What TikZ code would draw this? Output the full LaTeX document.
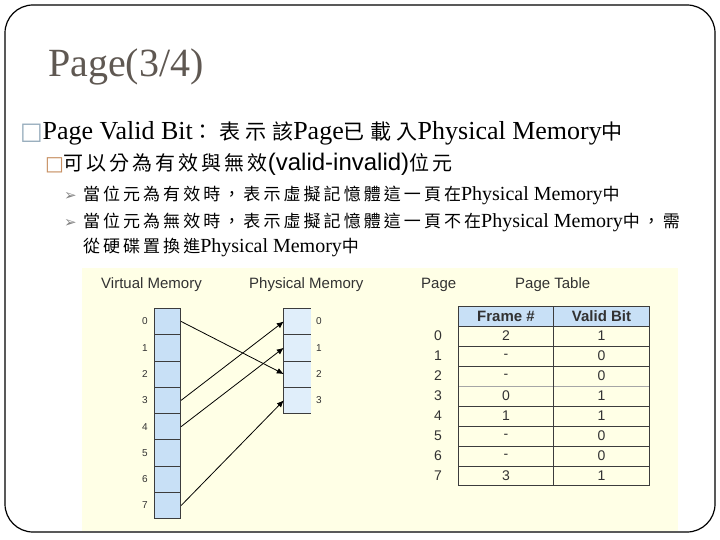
\documentclass[tikz,border=0pt]{standalone}
\usepackage{fontspec}
\setmainfont{Liberation Serif}
\newfontfamily\cjka{Noto Sans CJK TC}[LetterSpace=26]
\newfontfamily\cjkb{Noto Sans CJK TC}[LetterSpace=15]
\newfontfamily\cjkc{Noto Sans CJK TC}[LetterSpace=18]
\newfontfamily\arial{Liberation Sans}
\newfontfamily\dv{DejaVu Sans}
\usetikzlibrary{arrows.meta}
\definecolor{titlegray}{RGB}{95,88,82}
\definecolor{boxblue}{RGB}{150,172,188}
\definecolor{boxorange}{RGB}{200,145,100}
\definecolor{bulletgray}{RGB}{130,130,130}
\definecolor{bgyellow}{RGB}{255,255,230}
\definecolor{cellblue}{RGB}{200,224,246}
\definecolor{celllight}{RGB}{224,238,250}
\definecolor{linegray}{RGB}{60,60,60}
\definecolor{txtgray}{RGB}{50,50,50}
\tikzset{
  txt/.style={anchor=base west, inner sep=0pt, outer sep=0pt},
  vcell/.style={minimum width=26.7pt, minimum height=26.3pt, inner sep=0pt, fill=cellblue, draw=linegray, line width=0.8pt},
  pcell/.style={minimum width=26.7pt, minimum height=26.3pt, inner sep=0pt, fill=celllight},
  numlbl/.style={font=\arial\fontsize{10}{10}\selectfont, text=txtgray, inner sep=0pt},
  colhead/.style={font=\arial\fontsize{15}{15}\selectfont, text=txtgray, inner sep=0pt, anchor=base west},
  tcell/.style={font=\arial\fontsize{14}{14}\selectfont, text=txtgray, inner sep=0pt, minimum height=20pt},
  thead/.style={font=\arial\bfseries\fontsize{15}{15}\selectfont, text=txtgray, inner sep=0pt},
  arr/.style={-{Latex[length=7pt,width=6pt]}, line width=0.8pt, black}
}
\newcommand{\Ca}[1]{{\cjka\fontsize{21}{21}\selectfont #1}}
\newcommand{\Cc}[1]{{\cjkc\fontsize{17}{17}\selectfont #1}}
\begin{document}
\begin{tikzpicture}[x=1pt,y=-1pt]
\useasboundingbox (0,0) rectangle (720,540);
\fill[white] (0,0) rectangle (720,540);
% diagram background
\fill[bgyellow] (82,268) rectangle (678,531);
% slide frame
\draw[line width=1.2pt, rounded corners=28pt] (5,5) rectangle (715,532);

% title
\node[txt, font=\fontsize{40}{40}\selectfont, text=titlegray] (title) at (48,77) {Page(3/4)};

% bullet lines
\node[txt, font=\fontsize{26}{26}\selectfont] (l1) at (20,140)
 {{\dv\fontsize{24}{24}\selectfont\color{boxblue}□}Page Valid Bit\Ca{：表示該}Page\Ca{已載入}Physical Memory\Ca{中}};
\node[txt, font=\cjkb\fontsize{20}{20}\selectfont] (l2) at (45,171)
 {{\dv\fontsize{20}{20}\selectfont\color{boxorange}□}可以分為有效與無效{\arial\fontsize{24}{24}\selectfont(valid-invalid)}位元};
\node[txt, font=\dv\fontsize{15}{15}\selectfont, text=bulletgray] (b3) at (64,201) {➢};
\node[txt, font=\fontsize{20}{20}\selectfont] (l3) at (83,201)
 {\Cc{當位元為有效時，表示虛擬記憶體這一頁在}Physical Memory\Cc{中}};
\node[txt, font=\dv\fontsize{15}{15}\selectfont, text=bulletgray] (b4) at (64,228) {➢};
\node[txt, font=\fontsize{20}{20}\selectfont] (l4) at (83,228)
 {\Cc{當位元為無效時，表示虛擬記憶體這一頁不在}Physical Memory\Cc{中，需}};
\node[txt, font=\fontsize{20}{20}\selectfont] (l5) at (83,252)
 {\Cc{從硬碟置換進}Physical Memory\Cc{中}};

% column headings
\node[colhead] (hv) at (101,288) {Virtual Memory};
\node[colhead] (hp) at (249,288) {Physical Memory};
\node[colhead] (hpg) at (421,288) {Page};
\node[colhead] (hpt) at (515,288) {Page Table};

% virtual memory column
\foreach \i in {0,...,7} {
  \node[vcell] (v\i) at (167.35,{321.45+26.3*\i}) {};
  \node[numlbl] (vl\i) at (145,{321.45+26.3*\i}) {\i};
}
% physical memory column
\foreach \i in {0,...,3} {
  \node[pcell] (p\i) at (297.35,{321.45+26.3*\i}) {};
  \node[numlbl] (pl\i) at (319,{321.45+26.3*\i}) {\i};
}
\draw[linegray, line width=0.8pt] (p0.north east) -- (p0.north west) -- (p3.south west) -- (p3.south east);
\foreach \i in {0,1,2} { \draw[linegray, line width=0.8pt] (p\i.south west) -- (p\i.south east); }

% mapping arrows
\draw[arr] (v0.east) -- (p2.west);
\draw[arr] (v3.east) -- (p0.west);
\draw[arr] (v4.east) -- (p1.west);
\draw[arr] (v7.east) -- (p3.west);

% page table
\fill[cellblue] (458.3,306.7) rectangle (649.3,326);
\node[thead] (tf) at (506,316.5) {Frame \#};
\node[thead] (tv) at (601.5,316.5) {Valid Bit};
\foreach \i/\f/\b in {0/2/1,1/-/0,2/-/0,3/0/1,4/1/1,5/-/0,6/-/0,7/3/1} {
  \node[tcell] (r\i) at (438,{336+20*\i}) {\i};
  \node[tcell] (f\i) at (506,{336+20*\i}) {\f};
  \node[tcell] (b\i) at (601.5,{336+20*\i}) {\b};
}
\foreach \yy in {326,346,366,406,426,446,466} {
  \draw[linegray, line width=0.9pt] (458.3,\yy) -- (649.3,\yy);
}
\draw[gray!70, line width=0.9pt] (458.3,386) -- (649.3,386);
\draw[linegray, line width=0.9pt] (553.7,306.7) -- (553.7,485.7);
\draw[linegray, line width=0.9pt] (458.3,306.7) rectangle (649.3,485.7);
\end{tikzpicture}
\end{document}
